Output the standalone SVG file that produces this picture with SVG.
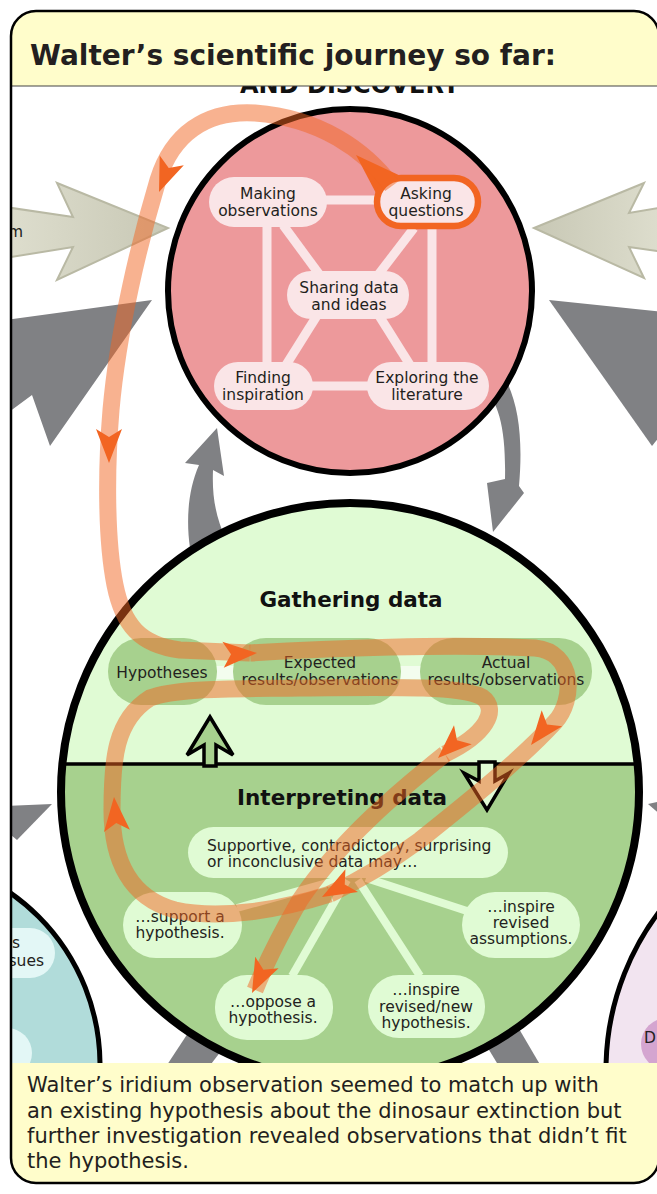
<svg xmlns="http://www.w3.org/2000/svg" xmlns:xlink="http://www.w3.org/1999/xlink" width="657" height="1194" viewBox="0 0 657 1194">
<defs>
<style>
.tx{font-family:"DejaVu Sans",Verdana,sans-serif;font-size:15.5px;fill:#231f20;text-anchor:middle}
.txl{font-family:"DejaVu Sans",Verdana,sans-serif;font-size:15.5px;fill:#231f20}
.hd{font-family:"DejaVu Sans",Verdana,sans-serif;font-weight:bold;fill:#111;text-anchor:middle}
.ft{font-family:"DejaVu Sans",Verdana,sans-serif;font-size:21px;fill:#231f20}
.gray{fill:#808184}
.pp{fill:#fae5e7}
.pl{stroke:#fae5e7;stroke-width:9;fill:none}
.gp{fill:#a7d18e}
.lp{fill:#e0fbd4}
.ll{stroke:#e0fbd4;stroke-width:8;fill:none}
.or{fill:none;stroke:#f26522;stroke-opacity:.5;stroke-width:17;stroke-linejoin:round}
.ah{fill:#f26522}
</style>
<clipPath id="content"><rect x="11" y="86" width="646" height="977"/></clipPath>
<clipPath id="frame"><rect x="11" y="11" width="648" height="1172" rx="25"/></clipPath>
<clipPath id="upper"><rect x="0" y="0" width="657" height="764"/></clipPath>
<linearGradient id="bgL" x1="0" y1="0" x2="1" y2="0"><stop offset="0" stop-color="#dedece"/><stop offset="1" stop-color="#c8c8b5"/></linearGradient>
<linearGradient id="bgR" x1="1" y1="0" x2="0" y2="0"><stop offset="0" stop-color="#dedece"/><stop offset="1" stop-color="#c8c8b5"/></linearGradient>
<path id="ahd" d="M0,0 L-34,-13 L-26,0 L-34,13 Z"/>
</defs>
<rect x="0" y="0" width="657" height="1194" fill="#fff"/>
<g clip-path="url(#content)">
  <g id="background-arrows">
    <polygon class="gray" points="152,300 5,320 5,415 32,395 50,446"/>
    <polygon class="gray" points="549,300 665,312 665,430 652,446"/>
    <polygon class="gray" points="52,804 5,806 5,830 17,840"/>
    <polygon class="gray" points="648,804 662,801 662,816"/>
    <polygon class="gray" points="190,1030 228,1042 208,1068 165,1068"/>
    <polygon class="gray" points="480,1035 515,1022 542,1068 500,1068"/>
    <path class="gray" d="M217,428 L224,476 L213,470 C212,495 215,515 226,540 L190,548 C186,520 188,490 199,465 L185,463 Z"/>
    <path class="gray" d="M480,385 C500,400 506,432 505,479 L487,483 L493,532 L524,493 L519,486 C523,440 519,405 505,378 Z"/>
    <polygon fill="url(#bgL)" stroke="#b9b9a4" stroke-width="2" points="5,207 73,217 57,183 168,228 57,280 73,247 5,258"/>
    <polygon fill="url(#bgR)" stroke="#b9b9a4" stroke-width="2" points="534,228 644,183 629,213 665,207 665,252 629,247 644,278"/>
    <text class="txl" x="8" y="237">m</text>
  </g>
  <g id="teal-circle">
    <circle cx="-110" cy="1065" r="210" fill="#b1dcda" stroke="#000" stroke-width="5"/>
    <rect x="-70" y="928" width="125" height="50" rx="25" fill="#e3f7f6"/>
    <rect x="-70" y="1028" width="102" height="50" rx="25" fill="#e3f7f6"/>
    <text class="tx" style="text-anchor:end" x="20" y="948">s</text>
    <text class="tx" style="text-anchor:end" x="44" y="966">sues</text>
  </g>
  <g id="purple-circle">
    <circle cx="868" cy="1070" r="262" fill="#f2e4f0" stroke="#000" stroke-width="5"/>
    <rect x="641" y="1018" width="80" height="52" rx="26" fill="#d4a5d0"/>
    <text class="txl" x="644" y="1043">D</text>
  </g>
  <text class="hd" x="350" y="93" font-size="24">AND DISCOVERY</text>
  <g id="exploration-circle">
    <circle cx="350" cy="291" r="182" fill="#ed999b" stroke="#000" stroke-width="6"/>
    <g id="pink-links">
      <line class="pl" x1="268" y1="200" x2="427" y2="200"/>
      <line class="pl" x1="267" y1="202" x2="267" y2="386"/>
      <line class="pl" x1="432" y1="202" x2="432" y2="386"/>
      <line class="pl" x1="263" y1="386" x2="428" y2="386"/>
      <line class="pl" x1="283" y1="225" x2="322" y2="278"/>
      <line class="pl" x1="414" y1="228" x2="378" y2="275"/>
      <line class="pl" x1="318" y1="314" x2="286" y2="365"/>
      <line class="pl" x1="378" y1="314" x2="410" y2="365"/>
    </g>
    <g id="n-making"><rect class="pp" x="209" y="177" width="118" height="50" rx="25"/><text class="tx" x="268" y="199">Making</text><text class="tx" x="268" y="216">observations</text></g>
    <g id="n-asking"><polygon class="ah" points="356,155 378,197 405,178"/><rect class="pp" x="377" y="178" width="101" height="48" rx="24" stroke="#f26522" stroke-width="6.5"/><text class="tx" x="426" y="199">Asking</text><text class="tx" x="426" y="216">questions</text></g>
    <g id="n-sharing"><rect class="pp" x="287" y="271" width="122" height="48" rx="24"/><text class="tx" x="349" y="293">Sharing data</text><text class="tx" x="349" y="310">and ideas</text></g>
    <g id="n-finding"><rect class="pp" x="214" y="362" width="99" height="48" rx="24"/><text class="tx" x="263" y="383">Finding</text><text class="tx" x="263" y="400">inspiration</text></g>
    <g id="n-exploring"><rect class="pp" x="367" y="362" width="122" height="48" rx="24"/><text class="tx" x="427" y="383">Exploring the</text><text class="tx" x="427" y="400">literature</text></g>
  </g>
  <g id="testing-circle">
    <circle cx="350" cy="792" r="289" fill="#a7d18e"/>
    <circle cx="350" cy="792" r="289" fill="#e0fbd4" clip-path="url(#upper)"/>
    <circle cx="350" cy="792" r="289" fill="none" stroke="#000" stroke-width="8"/>
    <path d="M62,764 H204 M216,764 H479 M495,764 H640" stroke="#000" stroke-width="3.5" fill="none"/>
    <polygon points="204,766 204,745 187,755 210,717 233,755 216,745 216,766" fill="#a7d18e" stroke="#000" stroke-width="3.5" stroke-linejoin="miter"/>
    <polygon points="479,762 479,781 464,773 487,810 509,773 495,781 495,762" fill="#e0fbd4" stroke="#000" stroke-width="3.5" stroke-linejoin="miter"/>
    <text class="hd" x="351" y="607" font-size="21.5">Gathering data</text>
    <text class="hd" x="342" y="805" font-size="21.5">Interpreting data</text>
    <rect x="160" y="666" width="346" height="13" fill="#f3fdee"/>
    <g id="n-hypotheses"><rect class="gp" x="108" y="638" width="109" height="67" rx="33"/><text class="tx" x="162" y="678">Hypotheses</text></g>
    <g id="n-expected"><rect class="gp" x="233" y="638" width="168" height="67" rx="33"/><text class="tx" x="320" y="668">Expected</text><text class="tx" x="320" y="685">results/observations</text></g>
    <g id="n-actual"><rect class="gp" x="420" y="638" width="172" height="67" rx="33"/><text class="tx" x="506" y="668">Actual</text><text class="tx" x="506" y="685">results/observations</text></g>
    <g id="interp-links">
      <line class="ll" x1="345" y1="878" x2="237" y2="908"/>
      <line class="ll" x1="347" y1="880" x2="292" y2="976"/>
      <line class="ll" x1="358" y1="880" x2="420" y2="976"/>
      <line class="ll" x1="366" y1="878" x2="470" y2="912"/>
    </g>
    <g id="n-data"><rect class="lp" x="188" y="827" width="320" height="51" rx="25.5"/><text class="txl" x="207" y="851">Supportive, contradictory, surprising</text><text class="txl" x="207" y="867">or inconclusive data may…</text></g>
    <g id="n-support"><rect class="lp" x="123" y="892" width="119" height="66" rx="33"/><text class="tx" x="180" y="922">…support a</text><text class="tx" x="180" y="938">hypothesis.</text></g>
    <g id="n-oppose"><rect class="lp" x="215" y="975" width="118" height="65" rx="32"/><text class="tx" x="273" y="1007">…oppose a</text><text class="tx" x="273" y="1023">hypothesis.</text></g>
    <g id="n-newhyp"><rect class="lp" x="368" y="975" width="117" height="63" rx="31"/><text class="tx" x="426" y="995">…inspire</text><text class="tx" x="426" y="1012">revised/new</text><text class="tx" x="426" y="1028">hypothesis.</text></g>
    <g id="n-assump"><rect class="lp" x="462" y="892" width="118" height="66" rx="33"/><text class="tx" x="521" y="912">…inspire</text><text class="tx" x="521" y="928">revised</text><text class="tx" x="521" y="944">assumptions.</text></g>
  </g>
  <g id="journey-connectors">
    <path class="or" d="M392,186 C365,150 320,118 255,113 C205,110 172,135 158,180 C140,240 118,330 111,410 C106,470 106,540 115,585 C123,625 140,645 180,650 L250,653"/>
    <path class="or" d="M250,653 C330,648 450,644 535,648 C575,652 575,700 555,722 C520,760 470,800 420,840 C390,862 360,880 330,894"/>
    <path class="or" d="M330,894 C280,910 220,920 175,910 C130,898 112,860 112,810 C112,760 115,720 150,698 C175,688 230,689 300,688 C400,687 460,686 482,697 C500,710 485,735 445,754"/>
    <path class="or" d="M445,754 C400,790 340,840 300,900 C280,935 265,965 255,990"/>
    <use xlink:href="#ahd" class="ah" transform="translate(159,192) rotate(112)"/>
    <use xlink:href="#ahd" class="ah" transform="translate(109,463) rotate(90)"/>
    <use xlink:href="#ahd" class="ah" transform="translate(257,653) rotate(-3)"/>
    <use xlink:href="#ahd" class="ah" transform="translate(531,745) rotate(128)"/>
    <use xlink:href="#ahd" class="ah" transform="translate(438,758) rotate(137)"/>
    <use xlink:href="#ahd" class="ah" transform="translate(322,897) rotate(151)"/>
    <use xlink:href="#ahd" class="ah" transform="translate(114,797) rotate(-95)"/>
    <use xlink:href="#ahd" class="ah" transform="translate(252,993) rotate(116)"/>
  </g>
</g>
<g id="header" clip-path="url(#frame)">
  <rect x="0" y="0" width="657" height="86" fill="#fffdcb"/>
  <line x1="11" y1="86" x2="657" y2="86" stroke="#444" stroke-width="1.2"/>
  <text x="30" y="65" font-family="'DejaVu Sans',Verdana,sans-serif" font-weight="bold" font-size="28" fill="#231f20">Walter’s scientific journey so far:</text>
</g>
<g id="footer" clip-path="url(#frame)">
  <rect x="0" y="1063" width="657" height="131" fill="#fffdcb"/>
  <text class="ft" x="27" y="1092">Walter’s iridium observation seemed to match up with</text>
  <text class="ft" x="27" y="1117.5">an existing hypothesis about the dinosaur extinction but</text>
  <text class="ft" x="27" y="1143">further investigation revealed observations that didn’t fit</text>
  <text class="ft" x="27" y="1168">the hypothesis.</text>
</g>
<rect x="11" y="11" width="648" height="1172" rx="25" fill="none" stroke="#000" stroke-width="2.5"/>
</svg>
